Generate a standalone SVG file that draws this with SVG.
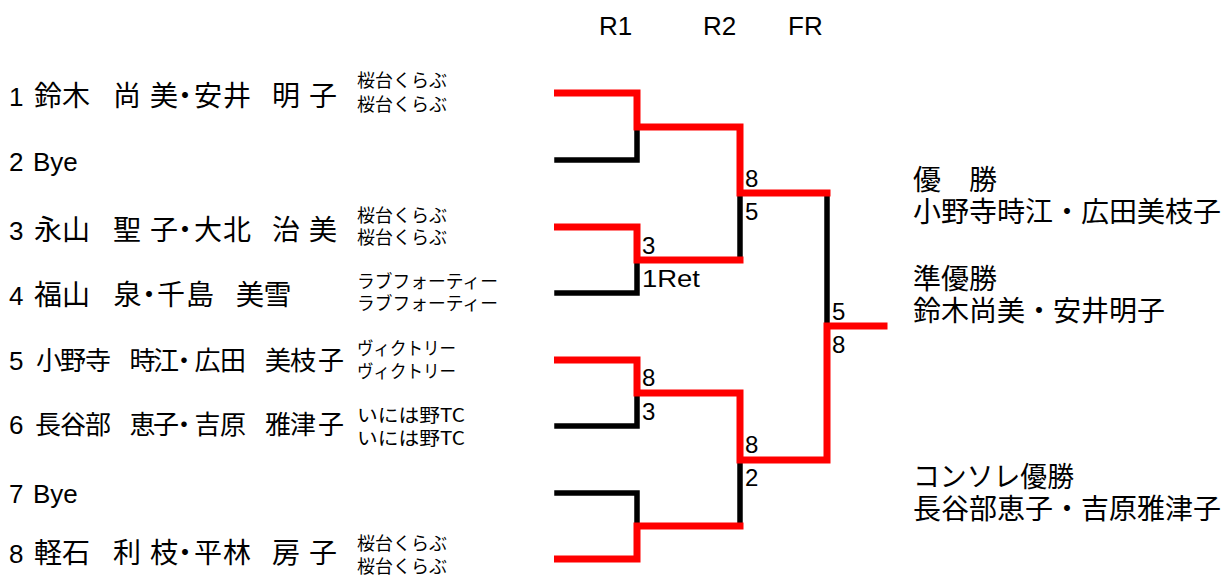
<svg xmlns="http://www.w3.org/2000/svg" width="1232" height="581" viewBox="0 0 1232 581">
<style>
.num{font-family:"Liberation Sans",Arial,sans-serif;font-size:26px;fill:#000}
.nm{font-family:"Noto Sans CJK JP",sans-serif;font-size:28px;fill:#000}
.nm2{font-family:"Noto Sans CJK JP",sans-serif;font-size:26px;fill:#000}
.club{font-family:"Noto Sans CJK JP",sans-serif;font-size:18px;fill:#000}
.hdr{font-family:"Liberation Sans",Arial,sans-serif;font-size:26px;fill:#000}
.sc{font-family:"Liberation Sans",Arial,sans-serif;font-size:24px;fill:#000}
.res{font-family:"Noto Sans CJK JP",sans-serif;font-size:28px;fill:#000}
.blk{fill:none;stroke:#000;stroke-width:5.5;stroke-linecap:square;stroke-linejoin:miter}
.red{fill:none;stroke:#f00;stroke-width:7;stroke-linecap:square;stroke-linejoin:miter}
</style>
<rect width="1232" height="581" fill="#fff"/>
<g id="header">
<text class="hdr" x="599" y="35">R1</text>
<text class="hdr" x="703" y="35">R2</text>
<text class="hdr" x="788" y="35">FR</text>
</g>
<g id="player1">
<text class="num" x="9" y="106">1</text>
<text class="nm" x="34 62 90 113 141 150 171 194 223 251 272 300 309" y="106">鈴木　尚 美・安井　明 子</text>
<text class="club" x="357" y="87">桜台くらぶ</text>
<text class="club" x="357" y="111">桜台くらぶ</text>
</g>
<g id="player2">
<text class="num" x="9" y="171">2</text>
<text class="num" x="33" y="171">Bye</text>
</g>
<g id="player3">
<text class="num" x="9" y="240">3</text>
<text class="nm" x="34 62 90 113 141 150 171 194 223 251 272 300 309" y="240">永山　聖 子・大北　治 美</text>
<text class="club" x="357" y="222">桜台くらぶ</text>
<text class="club" x="357" y="244">桜台くらぶ</text>
</g>
<g id="player4">
<text class="num" x="9" y="305">4</text>
<text class="nm" x="34 62 90 113.5 135 157 186 214 236 263.5" y="305">福山　泉・千島　美雪</text>
<text class="club" x="357" y="288" textLength="141" lengthAdjust="spacingAndGlyphs">ラブフォーティー</text>
<text class="club" x="357" y="310" textLength="141" lengthAdjust="spacingAndGlyphs">ラブフォーティー</text>
</g>
<g id="player5">
<text class="num" x="9" y="370">5</text>
<text class="nm2" x="36 60 85 111 129.5 153 171 194.5 220 246 265 290 318" y="370">小野寺　時江・広田　美枝子</text>
<text class="club" x="357" y="355" textLength="99" lengthAdjust="spacingAndGlyphs">ヴィクトリー</text>
<text class="club" x="357" y="378" textLength="99" lengthAdjust="spacingAndGlyphs">ヴィクトリー</text>
</g>
<g id="player6">
<text class="num" x="9" y="434">6</text>
<text class="nm2" x="35 60 85 111 129.5 153 171 194.5 220 246 265 290 318" y="434">長谷部　恵子・吉原　雅津子</text>
<text class="club" x="357" y="422" textLength="108" lengthAdjust="spacingAndGlyphs">いには野TC</text>
<text class="club" x="357" y="445" textLength="108" lengthAdjust="spacingAndGlyphs">いには野TC</text>
</g>
<g id="player7">
<text class="num" x="9" y="503">7</text>
<text class="num" x="33" y="503">Bye</text>
</g>
<g id="player8">
<text class="num" x="9" y="563">8</text>
<text class="nm" x="34 62 90 113 141 150 171 194 223 251 272 300 309" y="563">軽石　利 枝・平林　房 子</text>
<text class="club" x="357" y="550">桜台くらぶ</text>
<text class="club" x="357" y="573">桜台くらぶ</text>
</g>
<g id="connectors">
<path class="blk" d="M557,160 H637 V127"/>
<path class="blk" d="M557,293 H637 V260"/>
<path class="blk" d="M557,426 H637 V393"/>
<path class="blk" d="M557,493 H637 V526"/>
<path class="blk" d="M740,196 V260"/>
<path class="blk" d="M827,196 V326"/>
<path class="blk" d="M740,463 V526"/>
<path class="red" d="M557.5,93 H637 V127 H740 V193 H827"/>
<path class="red" d="M557.5,227 H637 V260 H740"/>
<path class="red" d="M557.5,360 H637 V393 H740 V460 H827 V326 H884"/>
<path class="red" d="M557.5,559 H637 V526 H740"/>
</g>
<g id="scores">
<text class="sc" x="745" y="187">8</text>
<text class="sc" x="745" y="220">5</text>
<text class="sc" x="642" y="254">3</text>
<text class="sc" x="642" y="287" textLength="58" lengthAdjust="spacingAndGlyphs">1Ret</text>
<text class="sc" x="832" y="320">5</text>
<text class="sc" x="832" y="353">8</text>
<text class="sc" x="642" y="386">8</text>
<text class="sc" x="642" y="420">3</text>
<text class="sc" x="745" y="453">8</text>
<text class="sc" x="745" y="486">2</text>
</g>
<g id="results">
<text class="res" x="913" y="190">優　勝</text>
<text class="res" x="913" y="222">小野寺時江・広田美枝子</text>
<text class="res" x="913" y="289">準優勝</text>
<text class="res" x="913" y="321">鈴木尚美・安井明子</text>
<text class="res" x="913" y="487" textLength="161" lengthAdjust="spacingAndGlyphs">コンソレ優勝</text>
<text class="res" x="913" y="519">長谷部恵子・吉原雅津子</text>
</g>
</svg>
